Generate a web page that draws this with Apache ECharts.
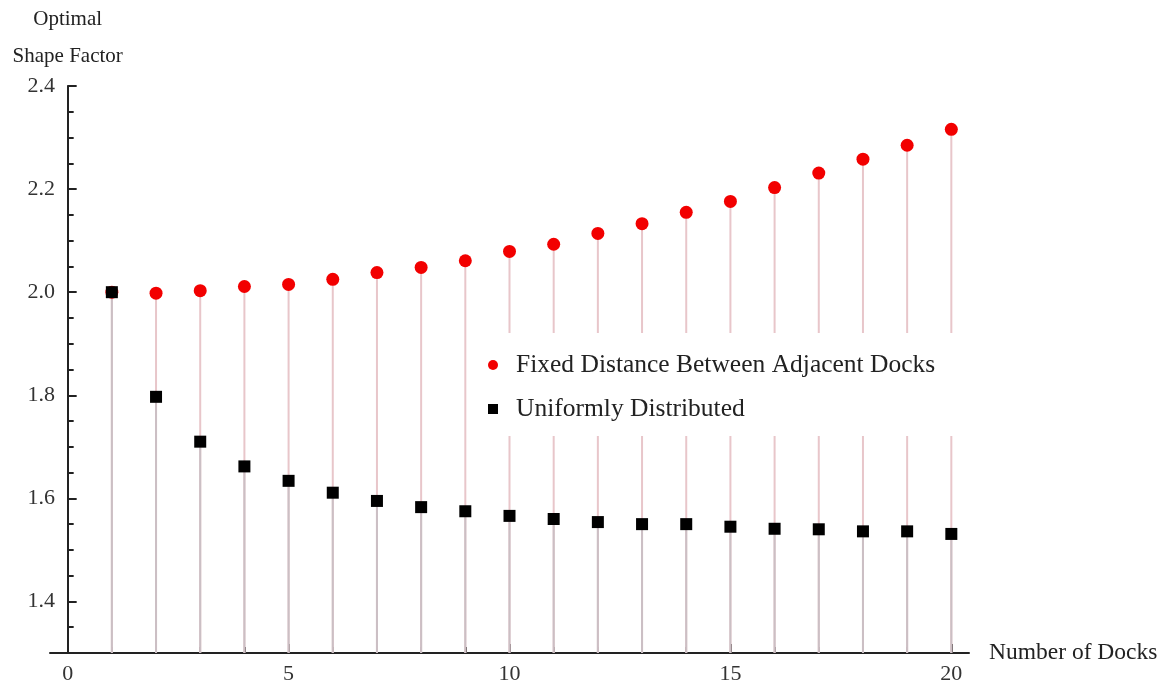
<!DOCTYPE html>
<html>
<head>
<meta charset="utf-8">
<script src="https://cdn.jsdelivr.net/npm/echarts@6/dist/echarts.min.js"></script>
<style>
html,body{margin:0;padding:0;background:#fff;}
#chart{width:1165px;height:686px;}
</style>
</head>
<body>
<div id="chart"></div>
<script>
const docks = [1,2,3,4,5,6,7,8,9,10,11,12,13,14,15,16,17,18,19,20];
const fixedDistance = [2.000,1.998,2.003,2.011,2.015,2.025,2.038,2.048,2.061,2.079,2.093,2.114,2.133,2.155,2.176,2.203,2.231,2.258,2.285,2.316];
const uniform = [2.000,1.797,1.710,1.662,1.634,1.611,1.595,1.583,1.575,1.566,1.560,1.554,1.550,1.550,1.545,1.541,1.540,1.536,1.536,1.531];
const xTickLabels = [0,5,10,15,20];
const xMinorTicks = [0,1,2,3,4,5,6,7,8,9,10,11,12,13,14,15,16,17,18,19,20];
const yTickLabels = [1.4,1.6,1.8,2.0,2.2,2.4];
const yMinorTicks = [1.3,1.35,1.4,1.45,1.5,1.55,1.6,1.65,1.7,1.75,1.8,1.85,1.9,1.95,2.0,2.05,2.1,2.15,2.2,2.25,2.3,2.35,2.4];
const seriesNames = ['Fixed Distance Between Adjacent Docks','Uniformly Distributed'];

const pairs = (ys) => docks.map((x,i) => [x, ys[i]]);
const FONT = 'Liberation Serif';
const axisLineStyle = {color:'#222', width:2};

const chart = echarts.init(document.getElementById('chart'), null, {renderer:'canvas'});
chart.setOption({
  backgroundColor:'#fff',
  animation:false,
  grid:{left:50, right:196, top:86, bottom:33},
  legend:{
    data:[{name:seriesNames[0], icon:'circle'},{name:seriesNames[1], icon:'rect'}],
    orient:'vertical', left:470, top:333,
    backgroundColor:'#fff',
    padding:[19,27,14,18],
    itemWidth:10, itemHeight:10, itemGap:18,
    textStyle:{fontFamily:FONT, fontSize:25.5, color:'#222', padding:[0,0,0,13]}
  },
  xAxis:[{
    type:'value', min:-0.4, max:20.4,
    name:'Number of Docks', nameLocation:'end', nameGap:20,
    nameTextStyle:{fontFamily:FONT, fontSize:23.5, color:'#222'},
    axisLine:{show:true, lineStyle:axisLineStyle},
    axisTick:{show:true, inside:true, length:6, customValues:xMinorTicks, lineStyle:{color:'#222', width:2}},
    axisLabel:{show:true, customValues:xTickLabels, fontFamily:FONT, fontSize:22, color:'#333', margin:10},
    splitLine:{show:false}
  },{
    type:'value', min:-0.4, max:20.4, position:'bottom',
    axisLine:{show:false},
    axisTick:{show:true, inside:true, length:9, customValues:xTickLabels, lineStyle:{color:'#222', width:2}},
    axisLabel:{show:false},
    splitLine:{show:false}
  }],
  yAxis:[{
    type:'value', min:1.3, max:2.4,
    name:'Optimal\nShape Factor', nameLocation:'end', nameGap:10,
    nameTextStyle:{fontFamily:FONT, fontSize:21, color:'#222', lineHeight:37, align:'center'},
    axisLine:{show:true, onZero:true, lineStyle:axisLineStyle},
    axisTick:{show:true, inside:true, length:6, customValues:yMinorTicks, lineStyle:{color:'#222', width:2}},
    axisLabel:{show:true, customValues:yTickLabels, formatter:(v)=>Number(v).toFixed(1), fontFamily:FONT, fontSize:22, color:'#333', margin:-5},
    splitLine:{show:false}
  },{
    type:'value', min:1.3, max:2.4, position:'left',
    axisLine:{show:false, onZero:true},
    axisTick:{show:true, inside:true, length:9, customValues:yTickLabels, lineStyle:{color:'#222', width:2}},
    axisLabel:{show:false},
    splitLine:{show:false}
  }],
  series:[
    {type:'bar', name:'stemFixed', data:pairs(fixedDistance), barWidth:2, barGap:'-100%',
     itemStyle:{color:'#e8c6ca'}, silent:true, z:1, clip:true, legendHoverLink:false},
    {type:'bar', name:'stemUniform', data:pairs(uniform), barWidth:2, barGap:'-100%',
     itemStyle:{color:'#cbbfc4'}, silent:true, z:1, clip:true, legendHoverLink:false},
    {type:'scatter', name:seriesNames[0], data:pairs(fixedDistance), symbol:'circle', symbolSize:13,
     itemStyle:{color:'#f20000', opacity:1}, z:3},
    {type:'scatter', name:seriesNames[1], data:pairs(uniform), symbol:'rect', symbolSize:12,
     itemStyle:{color:'#000', opacity:1}, z:4}
  ]
});
</script>
</body>
</html>
